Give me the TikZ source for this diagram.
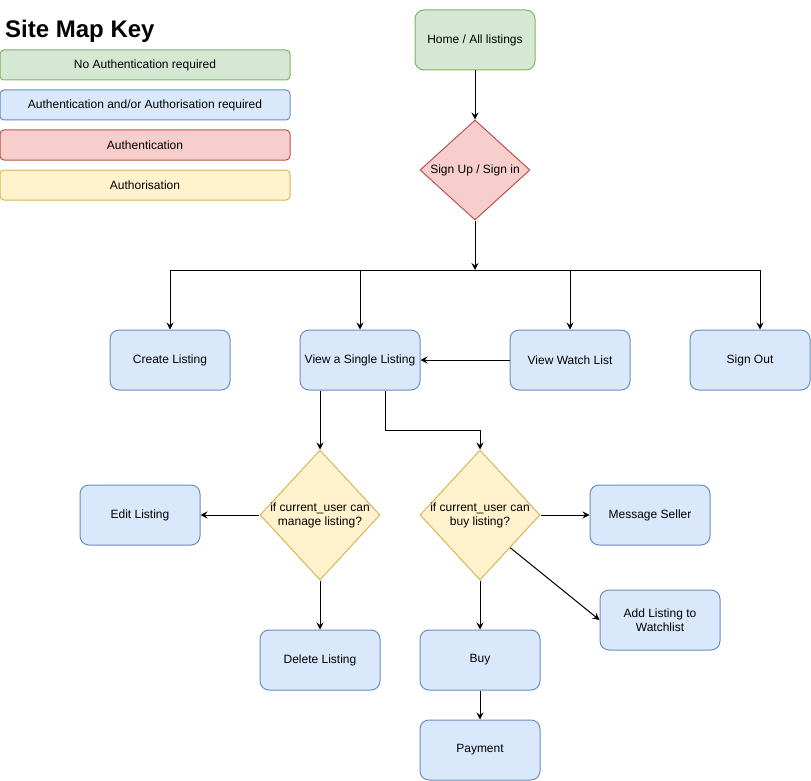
\documentclass[tikz,border=0pt]{standalone}
\usepackage{fontspec}
\setmainfont{Liberation Sans}
\usetikzlibrary{shapes.geometric,arrows.meta,calc}
\definecolor{gfill}{HTML}{D5E8D4}\definecolor{gline}{HTML}{82B366}
\definecolor{bfill}{HTML}{DAE8FC}\definecolor{bline}{HTML}{6C8EBF}
\definecolor{rfill}{HTML}{F8CECC}\definecolor{rline}{HTML}{B85450}
\definecolor{yfill}{HTML}{FFF2CC}\definecolor{yline}{HTML}{D6B656}
\begin{document}
\begin{tikzpicture}[x=1pt,y=-1pt,
  font=\fontsize{12}{14}\selectfont,
  box/.style={rectangle,rounded corners=9pt,minimum width=120pt,minimum height=60pt,inner sep=0pt,align=center,line width=1pt},
  keybox/.style={rectangle,rounded corners=4pt,minimum width=290pt,minimum height=30pt,inner sep=0pt,line width=1pt},
  gbox/.style={draw=gline,fill=gfill},
  bbox/.style={draw=bline,fill=bfill},
  rbox/.style={draw=rline,fill=rfill},
  ybox/.style={draw=yline,fill=yfill},
  dia/.style={diamond,inner sep=0pt,line width=1pt},
  arr/.style={-{Stealth[length=7pt,width=7pt,inset=2.5pt]},line width=1pt,draw=black}]
\useasboundingbox (0,0) rectangle (811,781);
% legend
\node[anchor=base west,font=\fontsize{24}{28}\selectfont\bfseries,inner sep=0pt] (title) at (5,38) {Site Map Key};
\node[keybox,gbox] (k1) at (145,65) {No Authentication required};
\node[keybox,bbox] (k2) at (145,105) {Authentication and/or Authorisation required};
\node[keybox,rbox] (k3) at (145,145) {Authentication};
\node[keybox,ybox] (k4) at (145,185) {Authorisation};
% nodes
\node[box,gbox] (home) at (475,40) {Home / All listings};
\node[dia,rbox,minimum width=110pt,minimum height=100pt,label={center:Sign Up / Sign in}] (sign) at (475,170) {};
\coordinate (hub) at (475,270);
\node[box,bbox] (create) at (170,360) {Create Listing};
\node[box,bbox] (single) at (360,360) {View a Single Listing};
\node[box,bbox] (watch) at (570,360) {View Watch List};
\node[box,bbox] (signout) at (750,360) {Sign Out};
\node[dia,ybox,minimum width=120pt,minimum height=130pt,label={[align=center]center:if current\_user can\\manage listing?}] (manage) at (320,515) {};
\node[dia,ybox,minimum width=120pt,minimum height=130pt,label={[align=center]center:if current\_user can\\buy listing?}] (buy) at (480,515) {};
\node[box,bbox] (edit) at (140,515) {Edit Listing};
\node[box,bbox] (delete) at (320,660) {Delete Listing};
\node[box,bbox] (message) at (650,515) {Message Seller};
\node[box,bbox] (add) at (660,620) {Add Listing to\\Watchlist};
\node[box,bbox] (buyb) at (480,660) {Buy};
\node[box,bbox] (pay) at (480,750) {Payment};
% connectors
\draw[arr] (home) -- (sign);
\draw[arr] (sign) -- (hub);
\draw[line width=1pt] (hub) -- (170,270) coordinate (hl) (hub) -- (760,270) coordinate (hr);
\draw[arr] (hl) -- (create.north);
\draw[arr] (hub -| single.north) -- (single.north);
\draw[arr] (hub -| watch.north) -- (watch.north);
\draw[arr] (hr) -- ([xshift=10pt]signout.north);
\draw[arr] (watch) -- (single);
\draw[arr] ([xshift=-40pt]single.south) -- (manage.north);
\draw[arr] ([xshift=25pt]single.south) -- ++(0,40) -| (buy.north);
\draw[arr] (manage) -- (edit);
\draw[arr] (manage) -- (delete);
\draw[arr] (buy) -- (message);
\draw[arr] (buy) -- (buyb);
\draw[arr] ($(buy.east)!0.5!(buy.south)$) -- (add.west);
\draw[arr] (buyb) -- (pay);
\end{tikzpicture}
\end{document}
